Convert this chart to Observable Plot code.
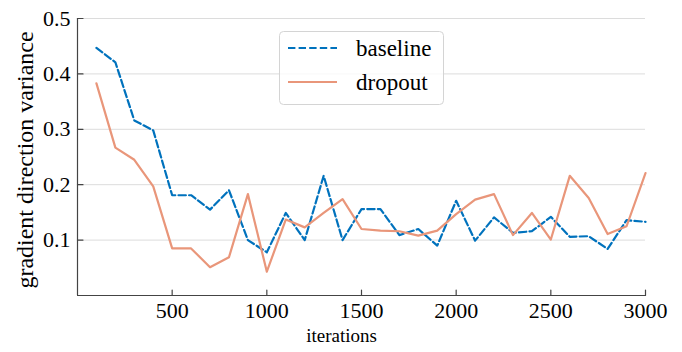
<!DOCTYPE html>
<html>
<head>
<meta charset="utf-8">
<script src="https://cdn.jsdelivr.net/npm/d3@7"></script>
<script src="https://cdn.jsdelivr.net/npm/@observablehq/plot@0.6"></script>
<style>
  html, body { margin: 0; padding: 0; background: #fff; }
  #wrap { position: relative; width: 682px; height: 352px; }
  #legend { position: absolute; left: 279px; top: 31px; }
</style>
</head>
<body>
<div id="wrap"></div>
<script>
const iterations = [100, 200, 300, 400, 500, 600, 700, 800, 900, 1000,
  1100, 1200, 1300, 1400, 1500, 1600, 1700, 1800, 1900, 2000,
  2100, 2200, 2300, 2400, 2500, 2600, 2700, 2800, 2900, 3000];
const baseline = [0.447, 0.421, 0.316, 0.298, 0.181, 0.181, 0.155, 0.190, 0.100, 0.078,
  0.149, 0.100, 0.216, 0.100, 0.156, 0.156, 0.109, 0.120, 0.090, 0.171,
  0.099, 0.141, 0.113, 0.116, 0.142, 0.106, 0.107, 0.084, 0.136, 0.133];
const dropout = [0.383, 0.267, 0.245, 0.197, 0.085, 0.085, 0.051, 0.069, 0.183, 0.043,
  0.137, 0.123, 0.149, 0.174, 0.120, 0.117, 0.116, 0.108, 0.117, 0.147,
  0.173, 0.183, 0.109, 0.149, 0.101, 0.216, 0.176, 0.111, 0.125, 0.221];
const seriesNames = ["baseline", "dropout"];
const xTicks = [500, 1000, 1500, 2000, 2500, 3000];
const yTicks = [0.1, 0.2, 0.3, 0.4, 0.5];
const colors = {baseline: "#0072BD", dropout: "#E9967A"};
const dash = "7.4,3.2";

const rowsBase = iterations.map((x, i) => ({x, y: baseline[i]}));
const rowsDrop = iterations.map((x, i) => ({x, y: dropout[i]}));

const tickShape = {draw(ctx, l) { ctx.moveTo(0, 0); ctx.lineTo(0, -l); }};
const spine = "#444";
const font = "Liberation Serif, Times New Roman, serif";

const chart = Plot.plot({
  width: 682,
  height: 352,
  marginLeft: 77,
  marginRight: 37,
  marginTop: 18,
  marginBottom: 57,
  style: {fontFamily: font, background: "#fff", color: "#000"},
  x: {domain: [0, 3000]},
  y: {domain: [0, 0.5]},
  marks: [
    Plot.gridY(yTicks, {stroke: "#dcdcdc", strokeOpacity: 1, strokeWidth: 1}),
    Plot.line(rowsBase, {x: "x", y: "y", stroke: colors.baseline, strokeWidth: 2.2, strokeDasharray: dash}),
    Plot.line(rowsDrop, {x: "x", y: "y", stroke: colors.dropout, strokeWidth: 2.2}),
    Plot.ruleX([0], {stroke: spine, strokeWidth: 1.2}),
    Plot.ruleY([0], {stroke: spine, strokeWidth: 1.2}),
    Plot.vector(xTicks, {x: d => d, frameAnchor: "bottom", length: 5.5, anchor: "start", shape: tickShape, stroke: spine, strokeWidth: 1.2}),
    Plot.vector(yTicks, {y: d => d, frameAnchor: "left", rotate: 90, length: 5.5, anchor: "start", shape: tickShape, stroke: spine, strokeWidth: 1.2}),
    Plot.axisX(xTicks, {tickSize: 0, tickPadding: 7, fontSize: 22, label: null, tickFormat: d => String(d), fill: "#000"}),
    Plot.axisY(yTicks, {tickSize: 0, tickPadding: 7, fontSize: 22, label: null, tickFormat: d3.format(".1f"), fill: "#000"}),
    Plot.text(["gradient direction variance"], {frameAnchor: "left", textAnchor: "middle", dx: -52, dy: 3, rotate: -90, fontSize: 24, fill: "#000"}),
    Plot.text(["iterations"], {frameAnchor: "bottom", textAnchor: "middle", dx: -20, dy: 46, fontSize: 19, fill: "#000"})
  ]
});

const wrap = document.getElementById("wrap");
wrap.appendChild(chart);

// legend
const lg = d3.create("svg").attr("id", "legend").attr("width", 166).attr("height", 75)
  .style("font-family", font);
lg.append("rect").attr("x", 0.5).attr("y", 0.5).attr("width", 164).attr("height", 73)
  .attr("rx", 4).attr("fill", "#fff").attr("fill-opacity", 0.8).attr("stroke", "#d4d4d4");
seriesNames.forEach((name, i) => {
  const cy = 17 + i * 34;
  lg.append("line").attr("x1", 9).attr("x2", 58).attr("y1", cy).attr("y2", cy)
    .attr("stroke", colors[name]).attr("stroke-width", 2.2)
    .attr("stroke-dasharray", name === "baseline" ? dash : null);
  lg.append("text").attr("x", 77).attr("y", cy).attr("dy", "0.35em")
    .attr("font-size", 23).attr("fill", "#000").text(name);
});
wrap.appendChild(lg.node());
</script>
</body>
</html>
